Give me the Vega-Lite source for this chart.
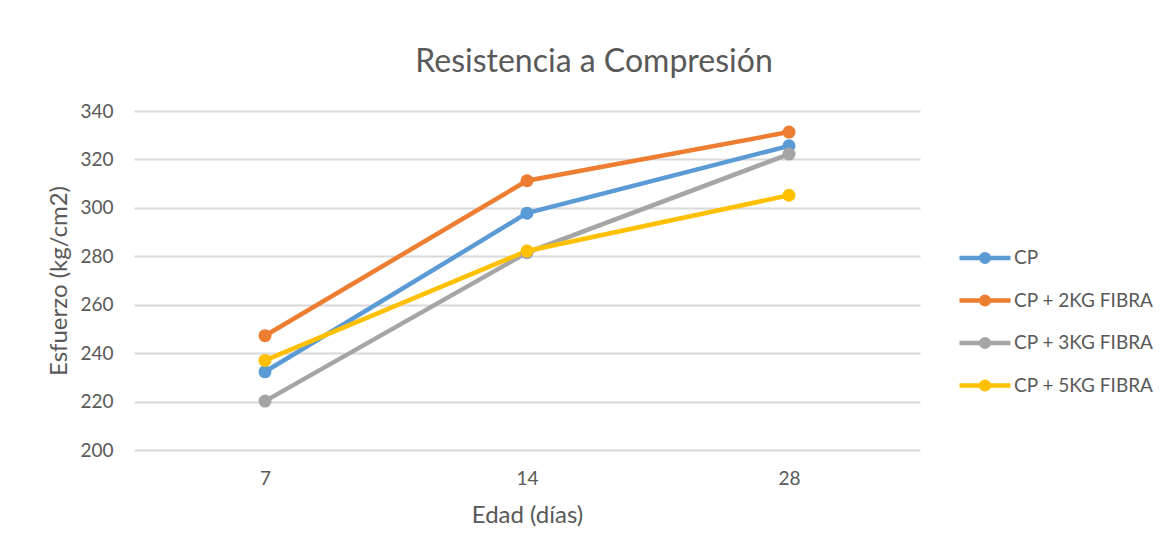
{
  "$schema": "https://vega.github.io/schema/vega-lite/v6.json",
  "autosize": {"type": "none"},
  "width": 786,
  "height": 339,
  "padding": {"left": 134, "top": 111, "right": 246, "bottom": 103},
  "background": "white",
  "title": {
    "text": "Resistencia a Compresión",
    "anchor": "middle",
    "dx": 67,
    "offset": 23,
    "fontSize": 32,
    "fontWeight": "normal",
    "color": "#595959",
    "font": "Lato"
  },
  "config": {
    "font": "Lato",
    "view": {"stroke": null},
    "axis": {
      "labelColor": "#595959",
      "titleColor": "#595959",
      "labelFontSize": 19,
      "titleFontSize": 24,
      "titleFontWeight": "normal",
      "gridColor": "#D9D9D9",
      "gridWidth": 2,
      "domain": false,
      "ticks": false
    }
  },
  "data": {
    "values": [
      {"dias": 7, "serie": "CP", "esfuerzo": 232.3},
      {"dias": 14, "serie": "CP", "esfuerzo": 297.8},
      {"dias": 28, "serie": "CP", "esfuerzo": 325.6},
      {"dias": 7, "serie": "CP + 2KG FIBRA", "esfuerzo": 247.2},
      {"dias": 14, "serie": "CP + 2KG FIBRA", "esfuerzo": 311.2},
      {"dias": 28, "serie": "CP + 2KG FIBRA", "esfuerzo": 331.3},
      {"dias": 7, "serie": "CP + 3KG FIBRA", "esfuerzo": 220.2},
      {"dias": 14, "serie": "CP + 3KG FIBRA", "esfuerzo": 281.5},
      {"dias": 28, "serie": "CP + 3KG FIBRA", "esfuerzo": 322.2},
      {"dias": 7, "serie": "CP + 5KG FIBRA", "esfuerzo": 237.0},
      {"dias": 14, "serie": "CP + 5KG FIBRA", "esfuerzo": 282.2},
      {"dias": 28, "serie": "CP + 5KG FIBRA", "esfuerzo": 305.2}
    ]
  },
  "encoding": {
    "x": {
      "field": "dias",
      "type": "ordinal",
      "sort": "ascending",
      "scale": {"type": "point", "padding": 0.5},
      "axis": {
        "title": "Edad (días)",
        "labelAngle": 0,
        "labelPadding": 19,
        "titlePadding": 15,
        "grid": false
      }
    },
    "y": {
      "field": "esfuerzo",
      "type": "quantitative",
      "scale": {"domain": [200, 340], "nice": false, "zero": false},
      "axis": {
        "title": "Esfuerzo (kg/cm2)",
        "values": [200, 220, 240, 260, 280, 300, 320, 340],
        "labelPadding": 21,
        "titlePadding": 8,
        "grid": true
      }
    },
    "color": {
      "field": "serie",
      "type": "nominal",
      "scale": {
        "domain": ["CP", "CP + 2KG FIBRA", "CP + 3KG FIBRA", "CP + 5KG FIBRA"],
        "range": ["#5B9BD5", "#ED7D31", "#A5A5A5", "#FFC000"]
      },
      "legend": {
        "title": null,
        "orient": "none",
        "legendX": 823,
        "legendY": 119,
        "symbolType": "M-1,0L1,0M0.15,0A0.15,0.15,0,1,1,-0.15,0A0.15,0.15,0,1,1,0.15,0Z",
        "symbolSize": 2601,
        "symbolStrokeWidth": 4.5,
        "labelFontSize": 19,
        "labelColor": "#595959",
        "labelOffset": 1,
        "rowPadding": 1.5,
        "encode": {
          "symbols": {
            "update": {
              "fill": {"scale": "color", "field": "value"},
              "stroke": {"scale": "color", "field": "value"},
              "strokeWidth": {"value": 4.5},
              "opacity": {"value": 1}
            }
          }
        }
      }
    }
  },
  "layer": [
    {"mark": {"type": "line", "strokeWidth": 4.5}},
    {"mark": {"type": "point", "filled": true, "size": 169, "opacity": 1, "shape": "circle"}}
  ]
}
